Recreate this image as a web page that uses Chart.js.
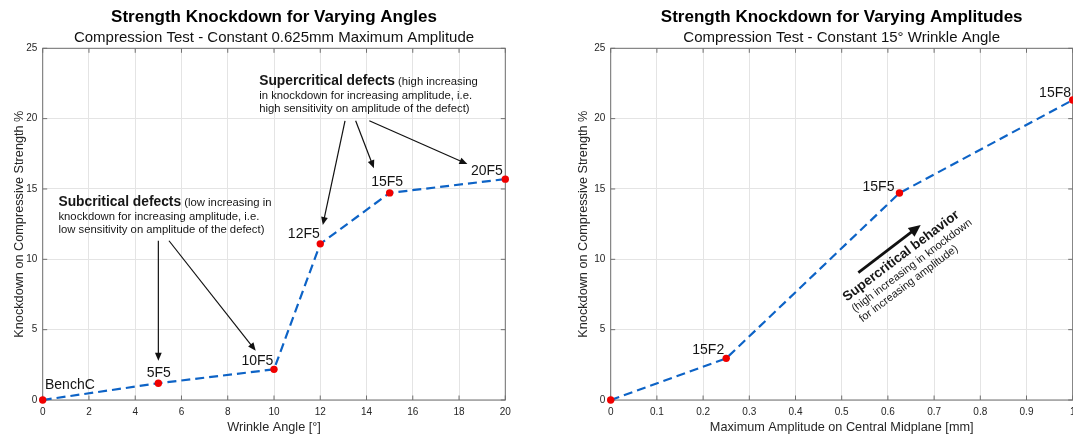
<!DOCTYPE html>
<html>
<head>
<meta charset="utf-8">
<title>Strength Knockdown</title>
<script src="https://cdn.jsdelivr.net/npm/chart.js@4/dist/chart.umd.min.js"></script>
<style>
  html, body { margin: 0; padding: 0; background: #fff; overflow: hidden; }
  #wrap { position: relative; width: 1073px; height: 437px; overflow: hidden; }
  canvas { position: absolute; top: 0; }
  #angles { left: 0; }
  #amplitudes { left: 548px; }
</style>
</head>
<body>
<div id="wrap">
  <canvas id="angles" width="540" height="437"></canvas>
  <canvas id="amplitudes" width="560" height="437"></canvas>
</div>
<script>
// Knockdown vs wrinkle angle (maximum amplitude held at 0.625 mm)
const angleDeg = [0, 5, 10, 12, 15, 20];
const angleKnockdown = [0, 1.19, 2.18, 11.1, 14.72, 15.7];
const angleTags = ['BenchC', '5F5', '10F5', '12F5', '15F5', '20F5'];

// Knockdown vs maximum amplitude (wrinkle angle held at 15°)
const amplitudeMm = [0, 0.25, 0.625, 1.0];
const amplitudeKnockdown = [0, 2.96, 14.71, 21.32];
const amplitudeTags = ['', '15F2', '15F5', '15F8'];

// Axis ticks
const angleTicks = [0, 2, 4, 6, 8, 10, 12, 14, 16, 18, 20];
const amplitudeTicks = [0, 0.1, 0.2, 0.3, 0.4, 0.5, 0.6, 0.7, 0.8, 0.9, 1];
const knockdownTicks = [0, 5, 10, 15, 20, 25];

// Annotation text (runs: b = bold, n = normal)
const supercriticalNote = [
  [['b', 'Supercritical defects'], ['n', ' (high increasing']],
  [['n', 'in knockdown for increasing amplitude, i.e.']],
  [['n', 'high sensitivity on amplitude of the defect)']]
];
const subcriticalNote = [
  [['b', 'Subcritical defects'], ['n', ' (low increasing in']],
  [['n', 'knockdown for increasing amplitude, i.e.']],
  [['n', 'low sensitivity on amplitude of the defect)']]
];
const behaviourNote = [
  [['b', 'Supercritical behavior']],
  [['n', '(high increasing in knockdown']],
  [['n', 'for increasing amplitude)']]
];

const FONT = "'Liberation Sans', Arial, Helvetica, sans-serif";
Chart.defaults.font.family = FONT;

// Axes box with inward tick marks on all four sides (drawn under the data)
const framePlugin = {
  id: 'frame',
  beforeDatasetsDraw(chart) {
    const { ctx, chartArea: a, scales: { x, y } } = chart;
    const len = 4.5;
    ctx.save();
    ctx.strokeStyle = '#707070';
    ctx.lineWidth = 1;
    ctx.beginPath();
    x.ticks.forEach(t => {
      const px = x.getPixelForValue(t.value);
      ctx.moveTo(px, a.bottom); ctx.lineTo(px, a.bottom - len);
      ctx.moveTo(px, a.top); ctx.lineTo(px, a.top + len);
    });
    y.ticks.forEach(t => {
      const py = y.getPixelForValue(t.value);
      ctx.moveTo(a.left, py); ctx.lineTo(a.left + len, py);
      ctx.moveTo(a.right, py); ctx.lineTo(a.right - len, py);
    });
    ctx.stroke();
    ctx.strokeRect(a.left, a.top, a.right - a.left, a.bottom - a.top);
    ctx.restore();
  }
};

// Specimen names next to each point
const tagsPlugin = {
  id: 'tags',
  afterDatasetsDraw(chart, args, opts) {
    const { ctx } = chart;
    const meta = chart.getDatasetMeta(0);
    ctx.save();
    ctx.font = '14px ' + FONT;
    ctx.fillStyle = '#141414';
    ctx.textBaseline = 'alphabetic';
    opts.text.forEach((txt, i) => {
      if (!txt) return;
      const p = meta.data[i];
      ctx.textAlign = opts.align[i];
      ctx.fillText(txt, p.x + opts.dx[i], p.y + opts.dy[i]);
    });
    ctx.restore();
  }
};

function drawArrow(ctx, x0, y0, x1, y1, width, head, half, color) {
  const ang = Math.atan2(y1 - y0, x1 - x0);
  const bx = x1 - head * Math.cos(ang), by = y1 - head * Math.sin(ang);
  ctx.strokeStyle = color;
  ctx.fillStyle = color;
  ctx.lineWidth = width;
  ctx.beginPath();
  ctx.moveTo(x0, y0);
  ctx.lineTo(bx + Math.cos(ang), by + Math.sin(ang));
  ctx.stroke();
  ctx.beginPath();
  ctx.moveTo(x1, y1);
  ctx.lineTo(bx + half * Math.sin(ang), by - half * Math.cos(ang));
  ctx.lineTo(bx - half * Math.sin(ang), by + half * Math.cos(ang));
  ctx.closePath();
  ctx.fill();
}

// Explanatory text blocks and arrows, anchored in axis units
const notesPlugin = {
  id: 'notes',
  afterDraw(chart, args, opts) {
    const { ctx, scales: { x, y } } = chart;
    ctx.save();
    (opts.arrows || []).forEach(a => {
      drawArrow(ctx,
        x.getPixelForValue(a.from[0]), y.getPixelForValue(a.from[1]),
        x.getPixelForValue(a.to[0]), y.getPixelForValue(a.to[1]),
        a.width, a.head, a.half, '#111');
    });
    (opts.blocks || []).forEach(b => {
      ctx.save();
      ctx.translate(x.getPixelForValue(b.at[0]), y.getPixelForValue(b.at[1]));
      ctx.rotate(-(b.angle || 0) * Math.PI / 180);
      ctx.fillStyle = '#161616';
      ctx.textAlign = 'left';
      ctx.textBaseline = 'alphabetic';
      let yy = 0;
      b.lines.forEach((line, i) => {
        if (i > 0) yy += b.gaps[i - 1];
        let xx = 0;
        line.forEach(([kind, text]) => {
          ctx.font = kind === 'b' ? `bold ${b.bold}px ${FONT}` : `${b.normal}px ${FONT}`;
          ctx.fillText(text, xx, yy);
          xx += ctx.measureText(text).width;
        });
      });
      ctx.restore();
    });
    ctx.restore();
  }
};

function buildChart(canvasId, cfg) {
  const points = cfg.xs.map((v, i) => ({ x: v, y: cfg.ys[i] }));
  return new Chart(document.getElementById(canvasId), {
    type: 'line',
    data: {
      datasets: [{
        data: points,
        borderColor: '#0d63c6',
        borderWidth: 2.2,
        borderDash: [9, 5],
        tension: 0,
        fill: false,
        pointRadius: 3.7,
        pointHoverRadius: 3.7,
        pointBackgroundColor: '#f00000',
        pointBorderWidth: 0,
        clip: false
      }]
    },
    options: {
      responsive: false,
      animation: false,
      devicePixelRatio: 1,
      events: [],
      layout: { padding: { top: 0, left: 0, bottom: 0, right: cfg.padRight } },
      scales: {
        x: {
          type: 'linear',
          min: cfg.xs0, max: cfg.xs1,
          afterBuildTicks: s => { s.ticks = cfg.xTicks.map(v => ({ value: v })); },
          afterFit: s => { s.height = 37; },
          grid: { color: '#e4e4e4', lineWidth: 1, drawTicks: false },
          border: { display: false },
          ticks: {
            color: '#262626', padding: 6.2, maxRotation: 0, autoSkip: false,
            font: { size: 10 },
            callback: v => String(v)
          },
          title: {
            display: true, text: cfg.xTitle, color: '#262626',
            font: { size: 12.7 }, padding: { top: 0, bottom: 1.6 }
          }
        },
        y: {
          type: 'linear',
          min: 0, max: 25,
          afterBuildTicks: s => { s.ticks = knockdownTicks.map(v => ({ value: v })); },
          afterFit: s => { s.width = cfg.yWidth; },
          grid: { color: '#e4e4e4', lineWidth: 1, drawTicks: false },
          border: { display: false },
          ticks: {
            color: '#262626', padding: 5.3, autoSkip: false,
            font: { size: 10 },
            callback: v => String(v)
          },
          title: {
            display: true, text: 'Knockdown on Compressive Strength %', color: '#262626',
            font: { size: 12.7 }, padding: { top: cfg.yTitlePad, bottom: 0 }
          }
        }
      },
      plugins: {
        legend: { display: false },
        tooltip: { enabled: false },
        title: {
          display: true, text: cfg.title, fullSize: false, color: '#000',
          font: { size: 17, weight: 'bold' }, padding: { top: 7.2, bottom: 0 }
        },
        subtitle: {
          display: true, text: cfg.subtitle, fullSize: false, color: '#111',
          font: { size: 15, weight: 'normal' }, padding: { top: 1.45, bottom: 1.25 }
        },
        tags: cfg.tags,
        notes: cfg.notes
      }
    },
    plugins: [framePlugin, tagsPlugin, notesPlugin]
  });
}

buildChart('angles', {
  xs: angleDeg, ys: angleKnockdown, xs0: 0, xs1: 20, xTicks: angleTicks,
  xTitle: 'Wrinkle Angle [°]', yWidth: 42.7, yTitlePad: 11.9, padRight: 34.7,
  title: 'Strength Knockdown for Varying Angles',
  subtitle: 'Compression Test - Constant 0.625mm Maximum Amplitude',
  tags: {
    text: angleTags,
    align: ['left', 'center', 'right', 'right', 'center', 'right'],
    dx: [2.3, 0.4, -0.7, -0.5, -2.5, -2.4],
    dy: [-10.7, -6, -4.3, -5.5, -6.7, -4]
  },
  notes: {
    blocks: [
      { at: [9.36, 22.39], lines: supercriticalNote, gaps: [14, 12.7], bold: 13.8, normal: 11.3 },
      { at: [0.68, 13.77], lines: subcriticalNote, gaps: [14, 12.7], bold: 13.8, normal: 11.3 }
    ],
    arrows: [
      { from: [13.07, 19.85], to: [12.11, 12.44], width: 1.2, head: 8, half: 3.4 },
      { from: [13.53, 19.85], to: [14.32, 16.47], width: 1.2, head: 8, half: 3.4 },
      { from: [14.12, 19.85], to: [18.36, 16.77], width: 1.2, head: 8, half: 3.4 },
      { from: [5.0, 11.32], to: [5.0, 2.79], width: 1.2, head: 8, half: 3.4 },
      { from: [5.46, 11.32], to: [9.21, 3.5], width: 1.2, head: 8, half: 3.4 }
    ]
  }
});

buildChart('amplitudes', {
  xs: amplitudeMm, ys: amplitudeKnockdown, xs0: 0, xs1: 1, xTicks: amplitudeTicks,
  xTitle: 'Maximum Amplitude on Central Midplane [mm]', yWidth: 62.7, yTitlePad: 27.9, padRight: 35.3,
  title: 'Strength Knockdown for Varying Amplitudes',
  subtitle: 'Compression Test - Constant 15° Wrinkle Angle',
  tags: {
    text: amplitudeTags,
    align: ['right', 'right', 'right', 'right'],
    dx: [0, -2, -5, -1.7],
    dy: [0, -4, -2, -3.3]
  },
  notes: {
    blocks: [
      { at: [0.511, 6.99], angle: 37, lines: behaviourNote, gaps: [13.5, 12.5], bold: 13.5, normal: 11 }
    ],
    arrows: [
      { from: [0.536, 9.05], to: [0.671, 12.44], width: 2.8, head: 12, half: 5.5 }
    ]
  }
});
</script>
</body>
</html>
